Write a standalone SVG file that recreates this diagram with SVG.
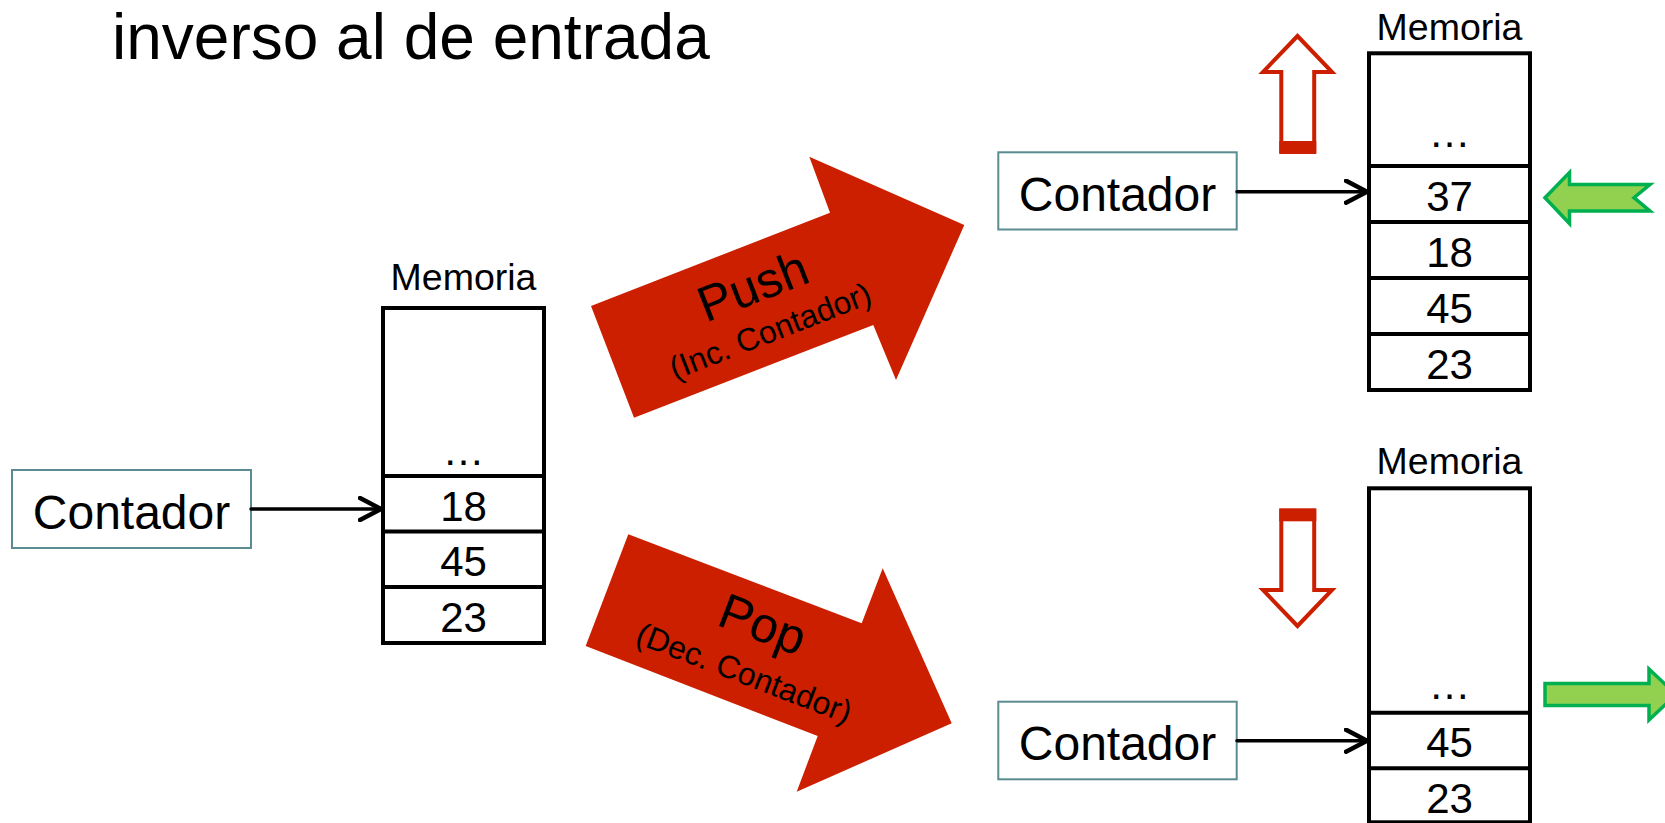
<svg xmlns="http://www.w3.org/2000/svg" width="1665" height="823" viewBox="0 0 1665 823">
<defs>
<style>
text{font-family:"Liberation Sans",Arial,sans-serif;fill:#000}
.title{font-size:64px}
.ctr{font-size:48px;text-anchor:middle}
.cbox{fill:#fff;stroke:#5B8C91;stroke-width:2}
.mem{font-size:37.5px;text-anchor:middle}
.cell{font-size:42px;text-anchor:middle}
.stack{fill:#fff;stroke:#000;stroke-width:4}
.div{stroke:#000;stroke-width:4}
.conn{stroke:#000;stroke-width:3.5;fill:none;stroke-linecap:round;stroke-linejoin:round}
.big{fill:#CC1F00}
.hollow{fill:#fff;stroke:#CC1F00;stroke-width:4;stroke-linejoin:miter}
.bar{fill:#CC1F00}
.green{fill:#92D050;stroke:#00B050;stroke-width:3.5}
.lbl1{font-size:50px;text-anchor:middle}
.lbl2{font-size:32px;text-anchor:middle}
</style>
<marker id="chev" viewBox="0 0 26 26" markerWidth="26" markerHeight="26" refX="23" refY="13" orient="auto" markerUnits="userSpaceOnUse">
<path d="M2,2 L23,13 L2,24" fill="none" stroke="#000" stroke-width="4.5" stroke-linecap="round" stroke-linejoin="round"/>
</marker>
</defs>
<rect width="1665" height="823" fill="#fff"/>

<text class="title" x="112" y="59">inverso al de entrada</text>

<g id="contador-left">
<rect class="cbox" x="12" y="470" width="239" height="78"/>
<text class="ctr" x="131.5" y="528.5">Contador</text>
</g>

<g id="memoria-left">
<text class="mem" x="463.5" y="290">Memoria</text>
<rect class="stack" x="383" y="308" width="161" height="335"/>
<line class="div" x1="383" y1="476" x2="544" y2="476"/>
<line class="div" x1="383" y1="531.5" x2="544" y2="531.5"/>
<line class="div" x1="383" y1="587" x2="544" y2="587"/>
<text class="cell" x="463.5" y="465">…</text>
<text class="cell" x="463.5" y="520.5">18</text>
<text class="cell" x="463.5" y="576">45</text>
<text class="cell" x="463.5" y="631.5">23</text>
</g>

<g id="push-arrow">
<polygon class="big" points="634,417.7 591,306 830,212.7 809.3,156.7 964.3,225 896,380 873.3,325"/>
<g transform="translate(759,302) rotate(-21.3)">
<text class="lbl1" x="0" y="0">Push</text>
<text class="lbl2" x="0" y="42">(Inc. Contador)</text>
</g>
</g>

<g id="pop-arrow">
<polygon class="big" points="628.3,534.3 861.7,623.3 882.7,568.3 951.7,723.3 796.7,791.7 817.7,736 585.7,646"/>
<g transform="translate(756.7,640.3) rotate(20.9)">
<text class="lbl1" x="0" y="0">Pop</text>
<text class="lbl2" x="0" y="46">(Dec. Contador)</text>
</g>
</g>

<g id="contador-top">
<rect class="cbox" x="998.3" y="152.3" width="238.4" height="77.2"/>
<text class="ctr" x="1117.5" y="210.5">Contador</text>
</g>

<g id="memoria-top">
<text class="mem" x="1449.5" y="39.5">Memoria</text>
<rect class="stack" x="1369" y="53.3" width="161" height="336.7"/>
<line class="div" x1="1369" y1="166" x2="1530" y2="166"/>
<line class="div" x1="1369" y1="222" x2="1530" y2="222"/>
<line class="div" x1="1369" y1="278" x2="1530" y2="278"/>
<line class="div" x1="1369" y1="334" x2="1530" y2="334"/>
<text class="cell" x="1449.5" y="147">…</text>
<text class="cell" x="1449.5" y="210.5">37</text>
<text class="cell" x="1449.5" y="266.5">18</text>
<text class="cell" x="1449.5" y="322.5">45</text>
<text class="cell" x="1449.5" y="378.5">23</text>
</g>

<g id="up-arrow">
<polygon class="hollow" points="1297.5,36 1332,72 1314.2,72 1314.2,151 1281.3,151 1281.3,72 1263,72"/>
<rect class="bar" x="1279.3" y="141" width="37" height="13"/>
</g>

<g id="green-in">
<polygon class="green" points="1545,197.7 1569.5,172.5 1569.5,184.5 1650,184.5 1634,197.7 1650,211 1569.5,211 1569.5,223.5"/>
</g>

<g id="contador-bottom">
<rect class="cbox" x="998.3" y="701.7" width="238.4" height="77.6"/>
<text class="ctr" x="1117.5" y="760">Contador</text>
</g>

<g id="memoria-bottom">
<text class="mem" x="1449.5" y="474.3">Memoria</text>
<rect class="stack" x="1369" y="488.3" width="161" height="334"/>
<line class="div" x1="1369" y1="712.7" x2="1530" y2="712.7"/>
<line class="div" x1="1369" y1="768.3" x2="1530" y2="768.3"/>
<text class="cell" x="1449.5" y="699">…</text>
<text class="cell" x="1449.5" y="756.5">45</text>
<text class="cell" x="1449.5" y="812.5">23</text>
</g>

<g id="down-arrow">
<polygon class="hollow" points="1281.3,511 1314.2,511 1314.2,590 1332,590 1297.5,626 1263,590 1281.3,590"/>
<rect class="bar" x="1279.3" y="508.3" width="37" height="13"/>
</g>

<g id="green-out">
<polygon class="green" points="1545,683.5 1649,683.5 1649,669 1676,694.5 1649,720 1649,705.5 1545,705.5"/>
</g>

<g id="connectors">
<line class="conn" x1="251" y1="509" x2="381" y2="509" marker-end="url(#chev)"/>
<line class="conn" x1="1237" y1="191.7" x2="1367" y2="191.7" marker-end="url(#chev)"/>
<line class="conn" x1="1237" y1="740.7" x2="1367" y2="740.7" marker-end="url(#chev)"/>
</g>
</svg>
